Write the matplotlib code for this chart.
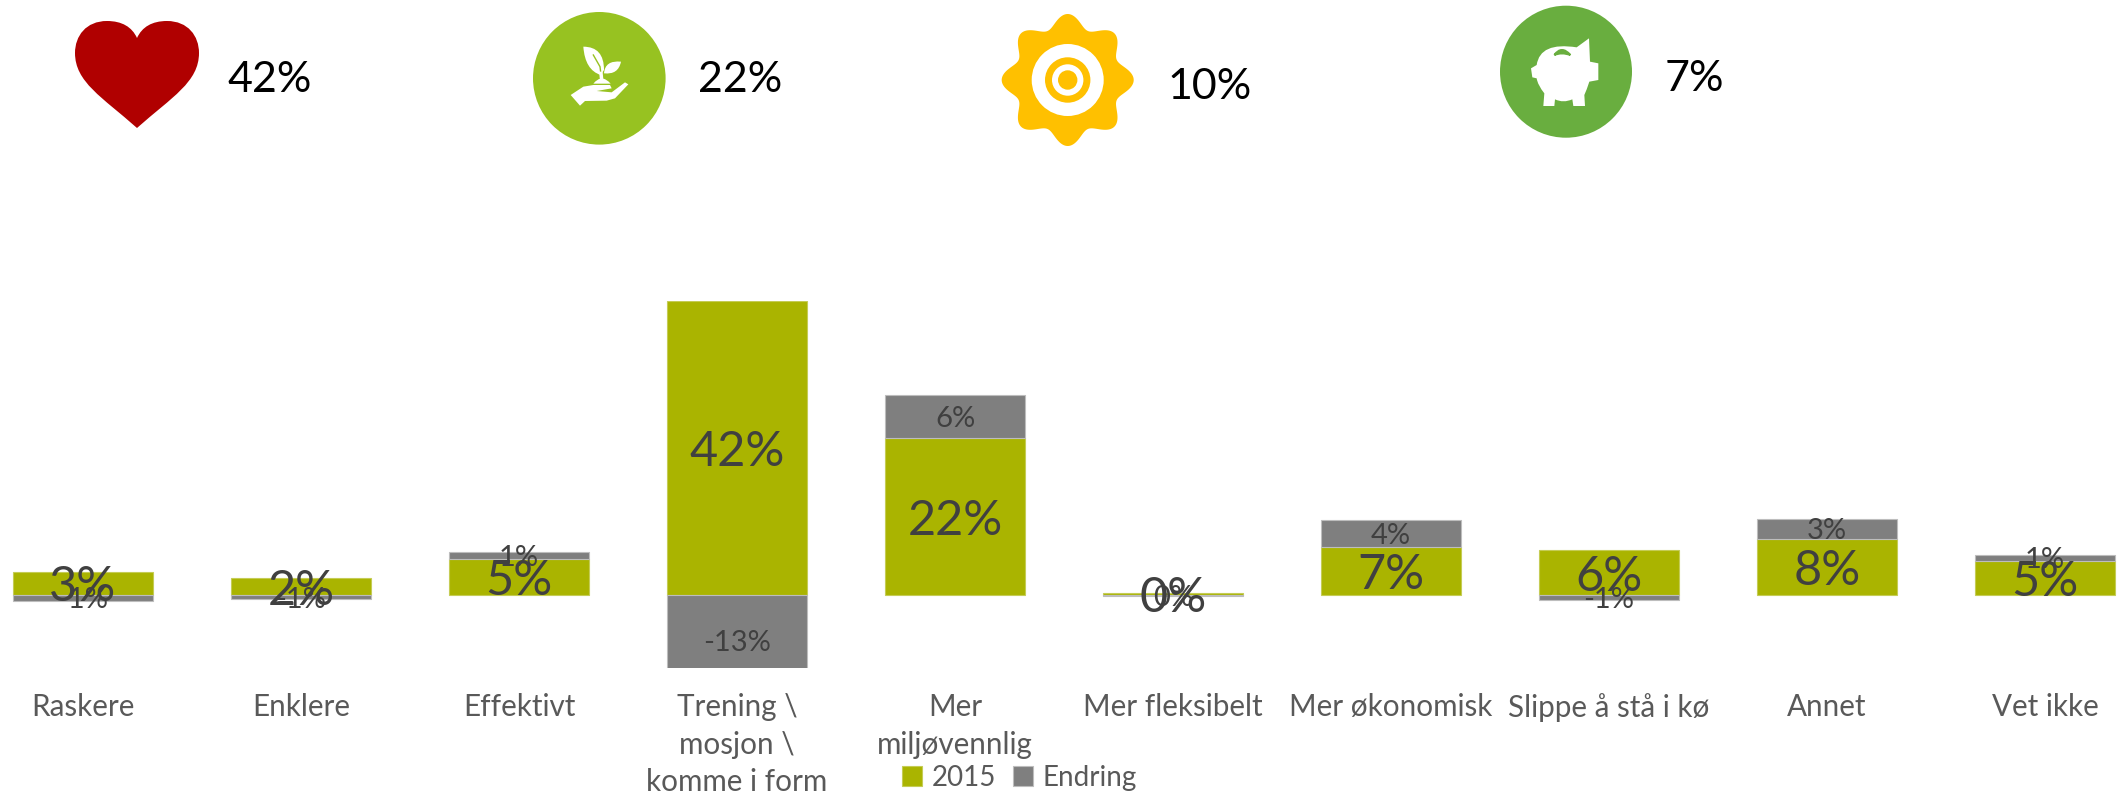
import numpy as np
import matplotlib
matplotlib.use("Agg")
import matplotlib.pyplot as plt
from matplotlib.path import Path
from matplotlib.patches import PathPatch, Circle, Polygon

plt.rcParams['font.family'] = ['Lato', 'DejaVu Sans']

categories = ["Raskere", "Enklere", "Effektivt", "Trening \\\nmosjon \\\nkomme i form",
              "Mer\nmiljøvennlig", "Mer fleksibelt", "Mer økonomisk",
              "Slippe å stå i kø", "Annet", "Vet ikke"]
values_2015 = [3.3, 2.4, 5.1, 42.0, 22.4, 0.3, 6.8, 6.4, 8.0, 4.9]
values_endring = [-0.8, -0.6, 1.1, -13.0, 6.1, -0.1, 3.9, -0.7, 2.9, 0.8]
series_names = ["2015", "Endring"]
headline_labels = ["42%", "22%", "10%", "7%"]

W, H = 2127, 797
GREEN, GREY = "#AAB400", "#7F7F7F"
fig = plt.figure(figsize=(W / 100, H / 100), dpi=100, facecolor="white")

ax = fig.add_axes([0, 1 - 668 / H, 1, (668 - 301) / H])
x = np.arange(len(categories))
g = np.array(values_2015)
c = np.array(values_endring)
bottom = np.where(c > 0, g, 0)
b1 = ax.bar(x, g, width=0.642, color=GREEN, edgecolor="#C5CC55", linewidth=0.8, label=series_names[0])
b2 = ax.bar(x, c, width=0.642, bottom=bottom, color=GREY, edgecolor="#BDBDBD", linewidth=0.8, label=series_names[1])
ax.set_xlim(-83 / 218, (W - 83) / 218)
ax.set_ylim(-10.43, 42)
ax.set_xticks(x)
ax.set_xticklabels(categories, fontsize=21.3, color="#595959", linespacing=1.42)
ax.tick_params(axis="x", length=0, pad=18)
ax.set_yticks([])
for s in ax.spines.values():
    s.set_visible(False)

for i in x:
    ax.text(i, g[i] / 2, f"{int(round(g[i]))}%", ha="center", va="center_baseline",
            fontsize=35, color="#404040", zorder=5)
    ax.text(i, bottom[i] + c[i] / 2, f"{int(round(c[i]))}%", ha="center", va="center_baseline",
            fontsize=21, color="#404040", zorder=6)

fig.legend(handles=[b1, b2], labels=series_names, loc="lower left",
           bbox_to_anchor=(894 / W, 1 - 799 / H), ncols=2, frameon=False, fontsize=20,
           labelcolor="#595959", handlelength=0.7, handleheight=0.7, handletextpad=0.35,
           columnspacing=0.62, borderpad=0.1, borderaxespad=0.2)

# Pictograms and headline figures, in pixel coordinates
ov = fig.add_axes([0, 0, 1, 1], zorder=10)
ov.set_xlim(0, W)
ov.set_ylim(H, 0)
ov.axis("off")
ov.patch.set_alpha(0)

M, L, Q, C4 = Path.MOVETO, Path.LINETO, Path.CURVE3, Path.CURVE4

heart = Path([(137, 38),
              (132, 27), (122, 21), (107, 21),
              (86, 21), (75, 36), (75, 53),
              (75, 82), (102, 97), (137, 128),
              (172, 97), (199, 82), (199, 53),
              (199, 36), (188, 21), (167, 21),
              (152, 21), (142, 27), (137, 38)],
             [M] + [C4] * 18)
ov.add_patch(PathPatch(heart, fc="#B00000", ec="none"))

# plant in hand
ov.add_patch(Circle((599.3, 78.3), 66.3, fc="#97C221", ec="none"))
def z5(pts):
    return [(530 + a / 3, 5 + b / 3) for a, b in pts]
leaf1 = Path(z5([(160, 125), (222, 125), (222, 195), (212, 210), (165, 195), (160, 125)]),
             [M, Q, Q, L, Q, Q])
leaf2 = Path(z5([(273, 170), (225, 165), (222, 205), (265, 210), (273, 170)]), [M, Q, Q, Q, Q])
mound = Path(z5([(190, 236), (215, 205), (242, 236), (190, 236)]), [M, Q, Q, L])
hand = z5([(122, 270), (160, 245), (190, 240), (240, 240), (245, 250), (200, 258), (245, 262),
           (285, 232), (295, 238), (255, 280), (230, 287), (165, 288), (150, 302)])
for p in (leaf1, leaf2, mound):
    ov.add_patch(PathPatch(p, fc="white", ec="none"))
ov.add_patch(Polygon(hand, closed=True, fc="white", ec="none"))
ov.plot(*zip(*z5([(190, 150), (210, 185), (215, 225)])), color="#97C221", lw=1.0)
ov.plot(*zip(*z5([(213, 205), (215, 225)])), color="white", lw=2.5)

# target sun
theta = np.linspace(0, 2 * np.pi, 721)
radius = 59.5 + 6.5 * np.cos(8 * (theta - np.pi / 2))
ov.fill(1067.7 + radius * np.cos(theta), 80 + radius * np.sin(theta), fc="#FFC000", ec="none")
for r, col in [(36, "white"), (22.7, "#FFC000"), (15.7, "white"), (9.7, "#FFC000")]:
    ov.add_patch(Circle((1067.7, 80), r, fc=col, ec="none"))

# piggy bank
ov.add_patch(Circle((1566, 71.7), 66, fc="#69AE3F", ec="none"))
def z7(pts):
    return [(1495 + a / 3, b / 3) for a, b in pts]
pig = Path(z7([(245, 142), (282, 115), (285, 185), (310, 190), (310, 240), (283, 245),
               (275, 270), (268, 285), (270, 318), (235, 318), (232, 298),
               (205, 310), (180, 298), (178, 318), (145, 318), (148, 280),
               (128, 255), (125, 235), (112, 232), (108, 205), (125, 195),
               (135, 125), (245, 142)]),
           [M, L, L, L, L, L, Q, Q, L, L, L, Q, Q, L, L, L, Q, Q, L, L, L, Q, Q])
ov.add_patch(PathPatch(pig, fc="white", ec="none"))
slot = Path(z7([(178, 165), (200, 135), (226, 165), (200, 155), (178, 165)]), [M, Q, Q, Q, Q])
ov.add_patch(PathPatch(slot, fc="#69AE3F", ec="#69AE3F", lw=1.5))

for label, px, py in zip(headline_labels, [227, 698, 1167, 1665], [76, 76, 83, 75]):
    ov.text(px, py, label, ha="left", va="center_baseline", fontsize=31, color="black")

fig.savefig("out.png", dpi=100)
